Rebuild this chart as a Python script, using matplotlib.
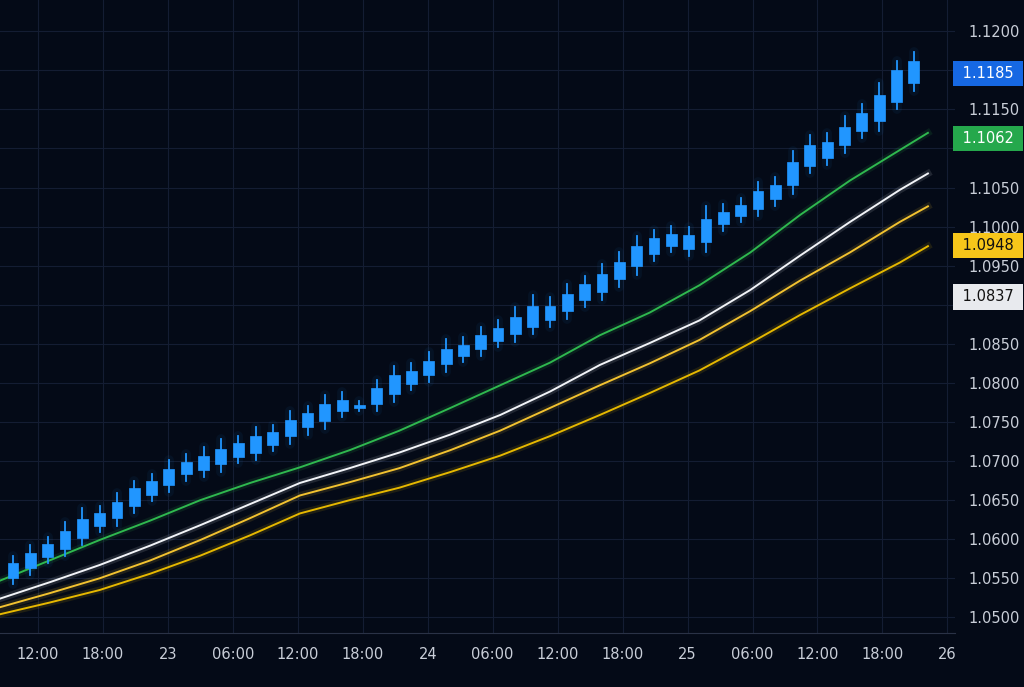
import matplotlib.pyplot as plt
import numpy as np

# candle data (hours from 22nd 00:00)
candle_start = 9.7
candle_step = 1.6
mids = [1.0560, 1.0573, 1.0586, 1.0599, 1.0614, 1.0625, 1.0637, 1.0654, 1.0666, 1.0680,
        1.0691, 1.0698, 1.0706, 1.0714, 1.0721, 1.0729, 1.0742, 1.0752, 1.0762, 1.0771,
        1.0770, 1.0783, 1.0798, 1.0807, 1.0819, 1.0834, 1.0842, 1.0852, 1.0862, 1.0874,
        1.0885, 1.0890, 1.0903, 1.0916, 1.0928, 1.0944, 1.0962, 1.0975, 1.0983, 1.0980,
        1.0995, 1.1011, 1.1021, 1.1034, 1.1044, 1.1068, 1.1091, 1.1098, 1.1116, 1.1134,
        1.1152, 1.1180, 1.1198]
bodies = [0.0018, 0.0020, 0.0017, 0.0022, 0.0024, 0.0016, 0.0020, 0.0022, 0.0018, 0.0020,
          0.0016, 0.0018, 0.0020, 0.0017, 0.0022, 0.0016, 0.0020, 0.0018, 0.0022, 0.0014,
          0.0003, 0.0020, 0.0024, 0.0016, 0.0018, 0.0020, 0.0014, 0.0018, 0.0016, 0.0022,
          0.0026, 0.0018, 0.0022, 0.0020, 0.0024, 0.0022, 0.0026, 0.0020, 0.0016, 0.0018,
          0.0030, 0.0016, 0.0014, 0.0022, 0.0018, 0.0030, 0.0026, 0.0020, 0.0024, 0.0022,
          0.0034, 0.0040, 0.0028]
wick_up = [0.0009, 0.0010, 0.0008, 0.0012, 0.0014, 0.0010, 0.0012, 0.0010, 0.0009, 0.0012,
           0.0010, 0.0011, 0.0012, 0.0010, 0.0011, 0.0009, 0.0012, 0.0010, 0.0012, 0.0010,
           0.0006, 0.0011, 0.0012, 0.0010, 0.0011, 0.0012, 0.0010, 0.0011, 0.0010, 0.0012,
           0.0014, 0.0011, 0.0012, 0.0011, 0.0012, 0.0012, 0.0013, 0.0011, 0.0010, 0.0011,
           0.0016, 0.0010, 0.0009, 0.0012, 0.0011, 0.0014, 0.0013, 0.0012, 0.0013, 0.0012,
           0.0015, 0.0012, 0.0012]
wick_dn = [0.0008, 0.0009, 0.0008, 0.0010, 0.0009, 0.0008, 0.0010, 0.0009, 0.0008, 0.0010,
           0.0008, 0.0009, 0.0010, 0.0008, 0.0009, 0.0008, 0.0010, 0.0009, 0.0010, 0.0008,
           0.0004, 0.0009, 0.0010, 0.0008, 0.0009, 0.0010, 0.0008, 0.0009, 0.0008, 0.0010,
           0.0010, 0.0009, 0.0010, 0.0009, 0.0010, 0.0010, 0.0011, 0.0009, 0.0008, 0.0009,
           0.0012, 0.0009, 0.0008, 0.0010, 0.0009, 0.0011, 0.0010, 0.0009, 0.0010, 0.0010,
           0.0012, 0.0010, 0.0010]

# moving averages sampled along the chart
ma_hours = [8.5, 13.1, 17.7, 22.4, 27.0, 31.6, 36.2, 40.8, 45.4, 50.1, 54.7, 59.3,
            63.9, 68.5, 73.1, 77.8, 82.4, 87.0, 91.6, 94.2]
ma_green = [1.0547, 1.0573, 1.0599, 1.0624, 1.0650, 1.0672, 1.0692, 1.0714, 1.0739, 1.0768,
            1.0797, 1.0826, 1.0861, 1.0890, 1.0925, 1.0967, 1.1015, 1.1059, 1.1098, 1.1120]
ma_white = [1.0524, 1.0545, 1.0567, 1.0592, 1.0618, 1.0645, 1.0672, 1.0691, 1.0711, 1.0734,
            1.0759, 1.0789, 1.0823, 1.0851, 1.0880, 1.0919, 1.0963, 1.1006, 1.1047, 1.1068]
ma_gold = [1.0513, 1.0531, 1.0550, 1.0573, 1.0599, 1.0627, 1.0656, 1.0673, 1.0691, 1.0714,
           1.0739, 1.0768, 1.0797, 1.0825, 1.0855, 1.0892, 1.0931, 1.0967, 1.1006, 1.1026]
ma_yellow = [1.0504, 1.0519, 1.0535, 1.0556, 1.0579, 1.0605, 1.0633, 1.0650, 1.0666, 1.0686,
             1.0707, 1.0732, 1.0759, 1.0787, 1.0816, 1.0851, 1.0887, 1.0921, 1.0954, 1.0975]

x_ticks = [12, 18, 24, 30, 36, 42, 48, 54, 60, 66, 72, 78, 84, 90, 96]
x_labels = ['12:00', '18:00', '23', '06:00', '12:00', '18:00', '24', '06:00',
            '12:00', '18:00', '25', '06:00', '12:00', '18:00', '26']
y_grid = [1.050, 1.055, 1.060, 1.065, 1.070, 1.075, 1.080, 1.085, 1.090, 1.095,
          1.100, 1.105, 1.110, 1.115, 1.120, 1.125]
y_ticks = [1.050, 1.055, 1.060, 1.065, 1.070, 1.075, 1.080, 1.085, 1.095,
           1.100, 1.105, 1.115, 1.125]
y_labels = ['1.0500', '1.0550', '1.0600', '1.0650', '1.0700', '1.0750', '1.0800', '1.0850',
            '1.0950', '1.1000', '1.1050', '1.1150', '1.1200']
tags = [('1.1185', 1.1196, '#1668e3', 'white'),
        ('1.1062', 1.1113, '#25a84c', 'white'),
        ('1.0948', 1.0976, '#f7c61a', '#111111'),
        ('1.0837', 1.0910, '#e8eaee', '#111111')]

bg = '#040a17'
grid_col = '#141d33'
fig = plt.figure(figsize=(10.24, 6.87), dpi=100, facecolor=bg)
ax = fig.add_axes([0, 0.0786, 955 / 1024, 0.9214])
ax.set_facecolor(bg)

for yv in y_grid:
    ax.axhline(yv, color=grid_col, lw=0.8, zorder=0)

candle_blue = '#2196ff'
times = candle_start + candle_step * np.arange(len(mids))
for t, m, b, wu, wd in zip(times, mids, bodies, wick_up, wick_dn):
    lo, hi = m - b / 2, m + b / 2
    ax.plot([t, t], [lo - wd, hi + wu], color=candle_blue, lw=7, alpha=0.06,
            solid_capstyle='round', zorder=3)
    ax.plot([t, t], [lo - wd, hi + wu], color=candle_blue, lw=1.3, zorder=4)
    ax.bar(t, hi - lo, bottom=lo, width=1.0, color=candle_blue, zorder=5,
           edgecolor=candle_blue, linewidth=0.5)

for vals, col in [(ma_yellow, '#e6b800'), (ma_gold, '#f2c230'),
                  (ma_white, '#f2f4f8'), (ma_green, '#2fb84f')]:
    ax.plot(ma_hours, vals, color=col, lw=5, alpha=0.12, zorder=2)
    ax.plot(ma_hours, vals, color=col, lw=1.4, zorder=3)

ax.set_xlim(8.5, 96.7)
ax.set_ylim(1.0480, 1.1290)
ax.set_xticks(x_ticks)
ax.set_xticklabels(x_labels)
ax.set_yticks(y_ticks)
ax.set_yticklabels(y_labels)
ax.yaxis.tick_right()
ax.tick_params(colors='#c9ced8', labelsize=10.5, length=0, pad=10)
ax.grid(True, axis='x', color=grid_col, lw=0.8)
for s in ['top', 'left', 'right']:
    ax.spines[s].set_visible(False)
ax.spines['bottom'].set_color('#2a3246')

for txt, yv, fc, tc in tags:
    ax.text(1.003, yv, ' ' + txt + ' ', transform=ax.get_yaxis_transform(), va='center',
            ha='left', fontsize=10.5, color=tc, zorder=10, clip_on=False,
            bbox=dict(boxstyle='square,pad=0.35', fc=fc, ec='none'))

fig.savefig('out.png', dpi=100, facecolor=bg)
